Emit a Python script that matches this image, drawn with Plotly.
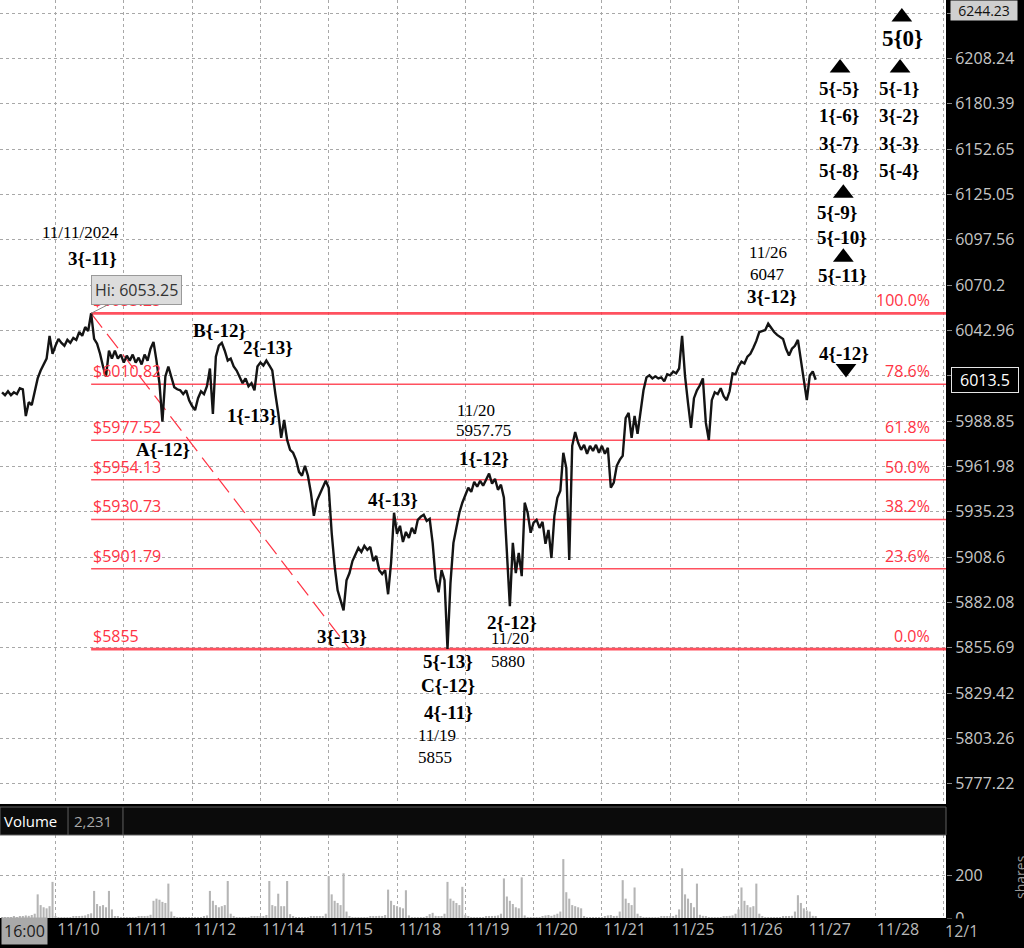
import math
import plotly.graph_objects as go

# ---------------- data ----------------
day_labels = ["11/10", "11/11", "11/12", "11/14", "11/15", "11/18", "11/19",
              "11/20", "11/21", "11/25", "11/26", "11/27", "11/28", "12/1"]
bars_per_day = 23
first_bar = -18

# hourly closes, per session
close_pre = [6006.0, 6004.3, 6006.6, 6004.3, 6006.0, 6004.9, 6008.4, 6007.8, 5991.9,
             6000.1, 5998.4, 6006.6, 6014.3, 6019.0, 6022.6, 6026.1, 6039.7, 6029.0]
close_1110 = [6033.8, 6037.9, 6035.5, 6033.8, 6037.3, 6035.5, 6038.5, 6037.3, 6042.0, 6039.7,
              6045.0, 6042.6, 6053.25, 6037.9, 6035.0, 6029.0, 6021.4, 6015.5, 6030.8, 6026.1,
              6030.8, 6026.1, 6028.5]
close_1111 = [6023.7, 6027.9, 6024.9, 6028.5, 6023.7, 6026.7, 6022.6, 6028.5, 6024.9, 6032.0,
              6036.1, 6024.9, 6011.4, 5988.5, 6015.5, 6021.4, 6015.5, 6009.0, 6007.8, 6007.2,
              6004.9, 6007.2, 6001.3]
close_1112 = [5997.8, 5995.4, 6002.5, 6006.6, 6004.9, 6009.6, 6020.2, 5993.1, 6027.3, 6033.8,
              6035.5, 6030.8, 6024.9, 6026.1, 6021.4, 6019.0, 6014.9, 6011.4, 6014.3, 6009.6,
              6011.4, 6007.2, 6021.4]
close_1114 = [6023.7, 6022.0, 6024.9, 6022.0, 6019.0, 6005.5, 5993.7, 5978.9, 5989.5, 5977.7,
              5971.8, 5970.1, 5965.9, 5958.8, 5956.5, 5962.4, 5956.5, 5946.5, 5932.9, 5941.7,
              5945.9, 5949.4, 5953.5]
close_1115 = [5949.4, 5922.9, 5903.4, 5889.2, 5883.3, 5877.5, 5895.1, 5899.3, 5906.3, 5910.5,
              5914.0, 5911.6, 5915.2, 5912.8, 5914.6, 5906.3, 5909.3, 5901.0, 5898.7, 5901.0,
              5886.9, 5905.2, 5934.7]
close_1118 = [5922.3, 5927.0, 5917.5, 5923.4, 5919.9, 5925.8, 5922.3, 5930.5, 5932.3, 5933.5,
              5929.9, 5931.1, 5917.0, 5896.3, 5888.0, 5901.0, 5895.1, 5855.0, 5893.4, 5917.0,
              5925.8, 5934.7, 5940.6]
close_1119 = [5945.3, 5949.4, 5947.0, 5952.9, 5950.0, 5953.5, 5950.6, 5954.1, 5957.75, 5951.8,
              5954.7, 5948.2, 5951.2, 5943.5, 5908.1, 5880.0, 5917.0, 5899.3, 5911.1, 5897.5,
              5940.6, 5934.7, 5922.9]
close_1120 = [5928.8, 5930.5, 5925.8, 5929.3, 5916.4, 5924.6, 5908.1, 5932.9, 5943.5, 5947.6,
              5970.1, 5961.2, 5906.9, 5974.2, 5982.4, 5976.0, 5971.8, 5974.8, 5969.5, 5974.2,
              5971.2, 5974.8, 5970.1]
close_1121 = [5974.2, 5969.5, 5973.0, 5949.4, 5952.4, 5962.4, 5965.9, 5968.3, 5990.7, 5993.7,
              5978.9, 5991.9, 5981.3, 5993.1, 6007.2, 6014.9, 6016.1, 6014.3, 6015.5, 6014.3,
              6014.9, 6012.5, 6016.7]
close_1125 = [6016.1, 6018.4, 6017.3, 6020.2, 6039.7, 6015.5, 5999.6, 5984.8, 6002.5, 6007.2,
              6010.2, 6014.3, 5987.8, 5977.7, 6001.3, 6006.0, 6004.9, 6008.4, 6003.7, 6001.3,
              6006.6, 6017.3, 6016.7]
close_1126 = [6021.4, 6024.3, 6023.2, 6027.3, 6029.0, 6032.6, 6036.7, 6042.0, 6042.6, 6043.2,
              6047.0, 6044.4, 6042.0, 6040.3, 6039.1, 6037.9, 6032.0, 6027.9, 6032.0, 6033.8,
              6037.3, 6026.1, 6012.5]
close_1127 = [6001.3, 6016.1, 6018.4, 6013.5]

vol_pre = [3, 2, 4, 3, 5, 4, 6, 8, 12, 10, 14, 20, 110, 60, 50, 45, 55, 168]
vol_1110 = [6, 3, 2, 2, 3, 4, 5, 6, 8, 10, 12, 18, 22, 126, 65, 55, 60, 50, 126, 40, 8, 5, 4]
vol_1111 = [3, 2, 3, 3, 4, 5, 6, 8, 10, 15, 80, 90, 85, 75, 70, 160, 30, 6, 4, 3, 3, 2, 3]
vol_1112 = [3, 2, 3, 4, 6, 12, 126, 80, 60, 50, 55, 60, 172, 20, 5, 3, 3, 2, 3, 4, 5, 6, 8]
vol_1114 = [5, 8, 14, 172, 60, 55, 113, 55, 55, 172, 18, 5, 3, 3, 2, 3, 4, 6, 8, 6, 5, 8, 20]
vol_1115 = [195, 110, 80, 70, 60, 208, 30, 6, 4, 3, 3, 2, 3, 4, 5, 6, 8, 10, 8, 14, 132, 80, 60]
vol_1118 = [55, 50, 45, 129, 12, 4, 3, 2, 3, 3, 8, 18, 24, 10, 6, 8, 20, 168, 90, 80, 70, 60, 145]
vol_1119 = [15, 5, 3, 3, 2, 3, 4, 5, 6, 8, 10, 12, 20, 184, 100, 80, 65, 50, 45, 189, 12, 4, 3]
vol_1120 = [3, 4, 3, 5, 12, 14, 10, 15, 20, 30, 274, 120, 90, 60, 55, 50, 45, 8, 4, 3, 3, 2, 3]
vol_1121 = [4, 6, 12, 14, 8, 10, 30, 176, 90, 70, 60, 142, 20, 5, 3, 3, 2, 2, 3, 4, 5, 6, 8]
vol_1125 = [6, 8, 15, 40, 231, 110, 90, 70, 50, 160, 15, 10, 8, 4, 3, 2, 3, 4, 6, 8, 10, 12, 20]
vol_1126 = [40, 142, 80, 60, 50, 55, 160, 20, 5, 3, 2, 2, 3, 3, 4, 5, 6, 8, 10, 30, 106, 70, 45]
vol_1127 = [35, 30, 10, 5]

price_ticks = [6236.23, 6208.24, 6180.39, 6152.65, 6125.05, 6097.56, 6070.2, 6042.96, 6015.85,
               5988.85, 5961.98, 5935.23, 5908.6, 5882.08, 5855.69, 5829.42, 5803.26, 5777.22]
vol_ticks = [0, 200]

fib_levels = [5855, 5901.79, 5930.73, 5954.13, 5977.52, 6010.82, 6053.25]
fib_pct = ["0.0%", "23.6%", "38.2%", "50.0%", "61.8%", "78.6%", "100.0%"]
fib_start_bar = 12
trend_bars = [12, 99]
trend_prices = [6053.25, 5855]

last_price = 6013.5
top_price = 6244.23
volume_total = "2,231"

# wave labels: (text, bar, price, font size, bold)
wave_labels = [
    ("11/11/2024", 8.3, 6102.2, 17, False),
    ("3{-11}", 12.3, 6086.4, 19, True),
    ("B{-12}", 55.1, 6043.1, 19, True),
    ("2{-13}", 71.6, 6032.9, 19, True),
    ("A{-12}", 36.2, 5971.8, 19, True),
    ("1{-13}", 66.0, 5992.0, 19, True),
    ("11/20", 141.6, 5995.4, 17, False),
    ("5957.75", 144.0, 5983.0, 17, False),
    ("1{-12}", 144.3, 5966.5, 19, True),
    ("4{-13}", 113.7, 5942.3, 19, True),
    ("3{-13}", 96.5, 5862.2, 19, True),
    ("2{-12}", 153.7, 5870.5, 19, True),
    ("11/20", 153.0, 5861.2, 17, False),
    ("5880", 152.4, 5848.0, 17, False),
    ("5{-13}", 132.2, 5847.8, 19, True),
    ("C{-12}", 132.2, 5833.9, 19, True),
    ("4{-11}", 132.2, 5818.3, 19, True),
    ("11/19", 128.5, 5805.0, 17, False),
    ("5855", 127.8, 5792.3, 17, False),
    ("11/26", 239.9, 6090.1, 17, False),
    ("6047", 239.6, 6076.8, 17, False),
    ("3{-12}", 241.3, 6063.5, 19, True),
    ("4{-12}", 265.5, 6029.3, 19, True),
    ("5{-5}", 263.9, 6189.6, 19, True),
    ("1{-6}", 263.9, 6173.4, 19, True),
    ("3{-7}", 263.9, 6156.3, 19, True),
    ("5{-8}", 263.9, 6139.8, 19, True),
    ("5{-9}", 263.2, 6114.3, 19, True),
    ("5{-10}", 264.9, 6099.1, 19, True),
    ("5{-11}", 264.9, 6076.2, 19, True),
    ("5{-1}", 284.1, 6189.6, 19, True),
    ("3{-2}", 284.1, 6173.4, 19, True),
    ("3{-3}", 284.1, 6156.3, 19, True),
    ("5{-4}", 284.1, 6139.8, 19, True),
    ("5{0}", 285.1, 6220.8, 23, True),
]
up_tri_bars = [285.0, 284.4, 264.2, 265.3, 265.3]
up_tri_prices = [6233.8, 6202.3, 6202.3, 6125.8, 6087.0]
down_tri_bars = [266.2]
down_tri_prices = [6020.2]

# ---------------- assemble ----------------
closes = (close_pre + close_1110 + close_1111 + close_1112 + close_1114 + close_1115 +
          close_1118 + close_1119 + close_1120 + close_1121 + close_1125 + close_1126 + close_1127)
volumes = (vol_pre + vol_1110 + vol_1111 + vol_1112 + vol_1114 + vol_1115 + vol_1118 +
           vol_1119 + vol_1120 + vol_1121 + vol_1125 + vol_1126 + vol_1127)
bars = list(range(first_bar, first_bar + len(closes)))
day_bars = [i * bars_per_day for i in range(len(day_labels))]

X_RANGE = [-18.69, 299.87]
Y_RANGE = [math.log10(5765.7), math.log10(6244.3)]
RED = "#ff3344"
SERIF = "Liberation Serif"
SANS = "Open Sans"
GRID = "#a8a8a8"

fig = go.Figure()

fig.add_trace(go.Bar(x=bars, y=volumes, marker=dict(color="#b5b5b5", line=dict(width=0)),
                     width=0.7, xaxis="x2", yaxis="y2"))

for lvl in fib_levels:
    w = 2.8 if lvl in (fib_levels[0], fib_levels[-1]) else 1.6
    fig.add_trace(go.Scatter(x=[fib_start_bar, X_RANGE[1] + 5], y=[lvl, lvl], mode="lines",
                             line=dict(color=RED, width=w), opacity=0.85))

fig.add_trace(go.Scatter(x=trend_bars, y=trend_prices, mode="lines",
                         line=dict(color=RED, width=1.2, dash="18px,8px")))

fig.add_trace(go.Scatter(x=bars, y=closes, mode="lines",
                         line=dict(color="#141414", width=2.4)))

fig.add_trace(go.Scatter(x=up_tri_bars, y=up_tri_prices, mode="markers",
                         marker=dict(symbol="triangle-up", size=18, color="black")))
fig.add_trace(go.Scatter(x=down_tri_bars, y=down_tri_prices, mode="markers",
                         marker=dict(symbol="triangle-down", size=18, color="black")))

ann = []
for text, b, p, size, bold in wave_labels:
    ann.append(dict(text=f"<b>{text}</b>" if bold else text, x=b, y=math.log10(p),
                    xref="x", yref="y", showarrow=False,
                    font=dict(family=SERIF, size=size, color="black")))

for lvl, pct in zip(fib_levels, fib_pct):
    ann.append(dict(text=f"${lvl:g}", x=fib_start_bar + 0.1, y=math.log10(lvl), xref="x", yref="y",
                    xanchor="left", yanchor="bottom", showarrow=False,
                    font=dict(family=SANS, size=16, color=RED)))
    ann.append(dict(text=pct, x=295.2, y=math.log10(lvl), xref="x", yref="y",
                    xanchor="right", yanchor="bottom", showarrow=False,
                    font=dict(family=SANS, size=16, color=RED)))

ann.append(dict(text=f"Hi: {fib_levels[-1]:g}", x=fib_start_bar, y=math.log10(fib_levels[-1]),
                xref="x", yref="y", showarrow=True, arrowhead=0, arrowwidth=1,
                arrowcolor="#8a8a8a", ax=45, ay=-23, bgcolor="#dcdcdc", bordercolor="#9a9a9a",
                borderwidth=1, borderpad=3, font=dict(family=SANS, size=16, color="#333")))

ann.append(dict(text=f"{top_price:g}", x=1.004, y=Y_RANGE[1], xref="paper", yref="y",
                xanchor="left", yanchor="top", showarrow=False, bgcolor="#cfcfcf",
                width=66, align="center", borderpad=0,
                font=dict(family=SANS, size=14, color="#111")))
ann.append(dict(text=f"{last_price:g}", x=1.0055, y=math.log10(last_price), xref="paper", yref="y",
                xanchor="left", yanchor="middle", showarrow=False, bgcolor="#000",
                bordercolor="#e6e6e6", borderwidth=1, borderpad=1, width=64, align="center",
                font=dict(family=SANS, size=16, color="white")))

ann.append(dict(text="Volume", x=0.002, y=0.1057, xref="paper", yref="paper", xanchor="left",
                yanchor="middle", showarrow=False, font=dict(family=SANS, size=15, color="white")))
ann.append(dict(text=volume_total, x=0.076, y=0.1057, xref="paper", yref="paper", xanchor="left",
                yanchor="middle", showarrow=False, font=dict(family=SANS, size=15, color="#a8a8a8")))
ann.append(dict(text="16:00", x=0.0254, y=-0.0142, xref="paper", yref="paper",
                xanchor="center", yanchor="middle", showarrow=False, bgcolor="#a9a9a9",
                borderpad=2, font=dict(family=SANS, size=16, color="#1c1c1c")))
ann.append(dict(text=day_labels[-1], x=0.9968, y=-0.0142, xref="paper", yref="paper",
                xanchor="left", yanchor="middle", showarrow=False, bgcolor="#000000",
                font=dict(family=SANS, size=16, color="#b9b9b9")))
ann.append(dict(text="shares", x=1.0785, y=0.045, xref="paper", yref="paper", textangle=-90,
                xanchor="center", yanchor="middle",
                showarrow=False, font=dict(family=SANS, size=14, color="#9a9a9a")))

shapes = [
    dict(type="rect", xref="paper", yref="paper", x0=0, x1=1, y0=0.0904, y1=0.1209,
         fillcolor="#0b0b0b", line=dict(color="#606060", width=1)),
    dict(type="line", xref="paper", yref="paper", x0=0.0719, x1=0.0719, y0=0.0904, y1=0.1209,
         line=dict(color="#606060", width=1)),
    dict(type="line", xref="paper", yref="paper", x0=0.130, x1=0.130, y0=0.0904, y1=0.1209,
         line=dict(color="#606060", width=1)),
]

fig.update_layout(
    width=1024, height=948,
    margin=dict(l=0, r=78, t=0, b=30),
    paper_bgcolor="#000000", plot_bgcolor="white",
    showlegend=False, hovermode=False, bargap=0.3,
    annotations=ann, shapes=shapes,
    xaxis=dict(domain=[0, 1], range=X_RANGE, anchor="y", tickvals=day_bars,
               showticklabels=False, ticks="", showgrid=True, gridcolor=GRID, griddash="dot",
               gridwidth=1, zeroline=False, showline=False),
    yaxis=dict(domain=[0.1242, 1], type="log", range=Y_RANGE, side="right", anchor="x",
               tickvals=price_ticks, ticktext=[f"{v:g}" for v in price_ticks],
               tickfont=dict(family=SANS, size=16, color="#c6c6c6"),
               ticks="outside", ticklen=5, tickcolor="#8a8a8a",
               showgrid=True, gridcolor=GRID, griddash="dot", gridwidth=1, zeroline=False),
    xaxis2=dict(domain=[0, 1], range=X_RANGE, anchor="y2",
                tickvals=[b + 7.7 for b in day_bars[:-1]], ticktext=day_labels[:-1],
                tickfont=dict(family=SANS, size=16, color="#b9b9b9"), ticks="",
                showgrid=False, zeroline=False,
                minor=dict(tickvals=day_bars, showgrid=True, gridcolor=GRID, griddash="dot",
                           gridwidth=1, ticks="")),
    yaxis2=dict(domain=[0, 0.0904], range=[0, 386], side="right", anchor="x2",
                tickvals=vol_ticks, ticktext=[str(v) for v in vol_ticks],
                tickfont=dict(family=SANS, size=16, color="#c6c6c6"),
                ticks="outside", ticklen=5, tickcolor="#8a8a8a",
                showgrid=True, gridcolor=GRID, griddash="dot", gridwidth=1, zeroline=False),
)

fig.write_html("out.html", config={"displayModeBar": False},
               post_script="document.body.style.margin='0px';document.body.style.overflow='hidden';")
